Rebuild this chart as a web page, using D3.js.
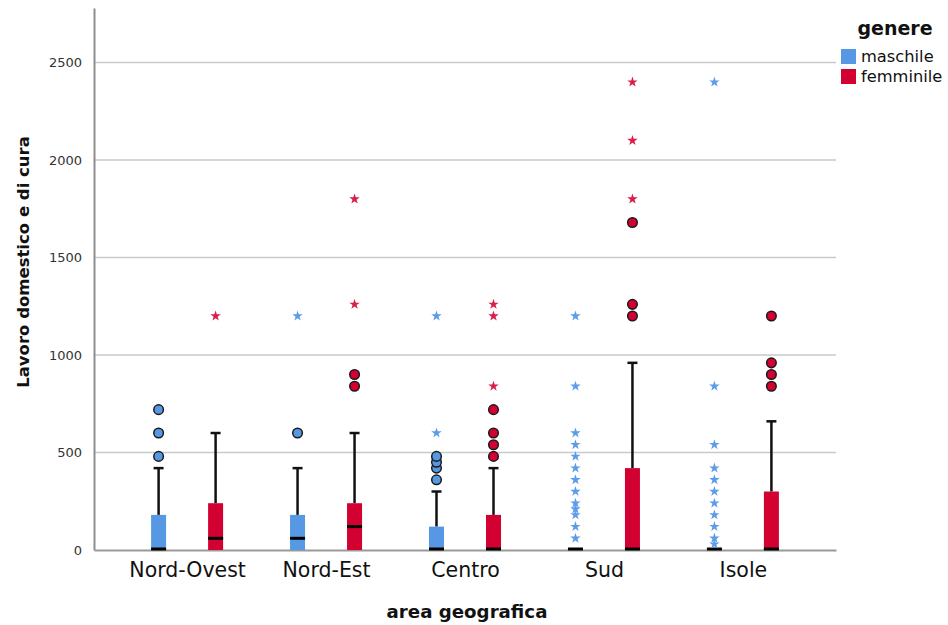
<!DOCTYPE html>
<html>
<head>
<meta charset="utf-8">
<script src="https://cdn.jsdelivr.net/npm/d3@7"></script>
<style>
  html, body { margin: 0; padding: 0; background: #fff; }
  svg { display: block; }
</style>
</head>
<body>
<svg id="chart" width="948" height="625"></svg>
<script>
// Regions and genders
const categories = ["Nord-Ovest", "Nord-Est", "Centro", "Sud", "Isole"];
const genders = ["maschile", "femminile"];
const yTicks = [0, 500, 1000, 1500, 2000, 2500];

// Box statistics, maschile
const q1Maschile = [0, 0, 0, 0, 0];
const medianMaschile = [0, 60, 0, 0, 0];
const q3Maschile = [180, 180, 120, 0, 0];
const whiskerMaschile = [420, 420, 300, 0, 0];
const outliersMaschile = [[480, 600, 720], [600], [360, 420, 450, 480], [], []];
const extremesMaschile = [
  [], [1200], [600, 1200],
  [60, 120, 180, 210, 240, 300, 360, 420, 480, 540, 600, 840, 1200],
  [30, 60, 120, 180, 240, 300, 360, 420, 540, 840, 2400]
];

// Box statistics, femminile
const q1Femminile = [0, 0, 0, 0, 0];
const medianFemminile = [60, 120, 0, 0, 0];
const q3Femminile = [240, 240, 180, 420, 300];
const whiskerFemminile = [600, 600, 420, 960, 660];
const outliersFemminile = [[], [840, 900], [480, 540, 600, 720], [1200, 1260, 1680], [840, 900, 960, 1200]];
const extremesFemminile = [[1200], [1260, 1800], [840, 1200, 1260], [1800, 2100, 2400], []];

const boxColor = { maschile: "#5698e3", femminile: "#d30032" };
const starColor = { maschile: "#5d9de8", femminile: "#d81f48" };

const stats = {
  maschile: { q1: q1Maschile, med: medianMaschile, q3: q3Maschile, wh: whiskerMaschile, out: outliersMaschile, ext: extremesMaschile },
  femminile: { q1: q1Femminile, med: medianFemminile, q3: q3Femminile, wh: whiskerFemminile, out: outliersFemminile, ext: extremesFemminile }
};

const svg = d3.select("#chart");
const plotLeft = 94, plotRight = 836, plotTop = 8, plotBottom = 550;

const x = d3.scalePoint().domain(categories).range([plotLeft, plotRight]).padding(0.67);
const xg = d3.scalePoint().domain(genders).range([-28.5, 28.5]);
const y = d3.scaleLinear().domain([0, 2780]).range([plotBottom, plotTop]);

// gridlines
svg.append("g")
  .selectAll("line")
  .data(yTicks.filter(d => d > 0))
  .join("line")
  .attr("x1", plotLeft).attr("x2", plotRight)
  .attr("y1", d => y(d)).attr("y2", d => y(d))
  .attr("stroke", "#c9c9c9").attr("stroke-width", 1.5);

// y axis
const yAxis = svg.append("g")
  .attr("transform", `translate(${plotLeft},0)`)
  .call(d3.axisLeft(y).tickValues(yTicks).tickSize(0).tickPadding(12).tickFormat(d3.format("d")));
yAxis.select(".domain").attr("stroke", "#8e8e8e").attr("stroke-width", 2);
yAxis.selectAll("text").attr("font-family", "DejaVu Sans, sans-serif").attr("font-size", 13).attr("fill", "#333");

// x axis
const xAxis = svg.append("g")
  .attr("transform", `translate(0,${plotBottom})`)
  .call(d3.axisBottom(x).tickSize(0).tickPadding(12));
xAxis.select(".domain").attr("stroke", "#9a9a9a").attr("stroke-width", 2);
xAxis.selectAll("text").attr("font-family", "DejaVu Sans, sans-serif").attr("font-size", 20.5).attr("fill", "#111");

const boxW = 15;
const plot = svg.append("g");

genders.forEach(g => {
  const s = stats[g];
  categories.forEach((c, i) => {
    const cx = x(c) + xg(g);
    const grp = plot.append("g");
    // whisker
    if (s.wh[i] > s.q3[i]) {
      grp.append("line")
        .attr("x1", cx).attr("x2", cx)
        .attr("y1", y(s.q3[i])).attr("y2", y(s.wh[i]))
        .attr("stroke", "#111").attr("stroke-width", 2.5);
      grp.append("line")
        .attr("x1", cx - 5).attr("x2", cx + 5)
        .attr("y1", y(s.wh[i])).attr("y2", y(s.wh[i]))
        .attr("stroke", "#111").attr("stroke-width", 2.5);
    }
    // box
    if (s.q3[i] > s.q1[i]) {
      grp.append("rect")
        .attr("x", cx - boxW / 2).attr("width", boxW)
        .attr("y", y(s.q3[i])).attr("height", y(s.q1[i]) - y(s.q3[i]))
        .attr("fill", boxColor[g]);
    }
    // median
    grp.append("line")
      .attr("x1", cx - boxW / 2).attr("x2", cx + boxW / 2)
      .attr("y1", y(s.med[i]) - (s.med[i] === 0 ? 1 : 0))
      .attr("y2", y(s.med[i]) - (s.med[i] === 0 ? 1 : 0))
      .attr("stroke", "#000").attr("stroke-width", 3);
    // outliers
    grp.selectAll("circle")
      .data(s.out[i])
      .join("circle")
      .attr("cx", cx).attr("cy", d => y(d)).attr("r", 4.8)
      .attr("fill", boxColor[g]).attr("stroke", "#1a1a1a").attr("stroke-width", 1.5);
    // extremes
    grp.selectAll("path.star")
      .data(s.ext[i])
      .join("path")
      .attr("class", "star")
      .attr("transform", d => `translate(${cx},${y(d)})`)
      .attr("d", d3.symbol(d3.symbolStar, 34))
      .attr("fill", starColor[g]);
  });
});

// axis titles
svg.append("text")
  .attr("x", 467).attr("y", 618)
  .attr("text-anchor", "middle")
  .attr("font-family", "DejaVu Sans, sans-serif").attr("font-weight", "bold").attr("font-size", 18.2)
  .attr("fill", "#111")
  .text("area geografica");

svg.append("text")
  .attr("transform", "translate(29,262) rotate(-90)")
  .attr("text-anchor", "middle")
  .attr("font-family", "DejaVu Sans, sans-serif").attr("font-weight", "bold").attr("font-size", 16.5)
  .attr("fill", "#111")
  .text("Lavoro domestico e di cura");

// legend
const legend = svg.append("g");
legend.append("text")
  .attr("x", 895).attr("y", 35)
  .attr("text-anchor", "middle")
  .attr("font-family", "DejaVu Sans, sans-serif").attr("font-weight", "bold").attr("font-size", 19)
  .attr("fill", "#111")
  .text("genere");
genders.forEach((g, i) => {
  legend.append("rect")
    .attr("x", 841).attr("y", 49 + i * 20).attr("width", 15).attr("height", 15)
    .attr("fill", boxColor[g]);
  legend.append("text")
    .attr("x", 861).attr("y", 62 + i * 20)
    .attr("font-family", "DejaVu Sans, sans-serif").attr("font-size", 16.3)
    .attr("fill", "#111")
    .text(g);
});
</script>
</body>
</html>
